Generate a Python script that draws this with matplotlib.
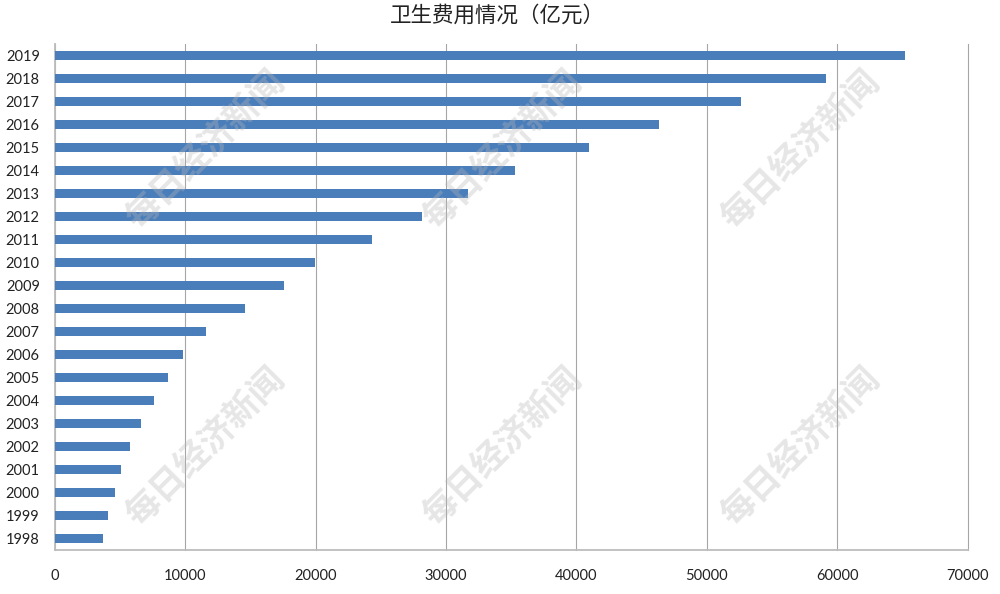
import matplotlib
matplotlib.use("Agg")
import matplotlib.pyplot as plt

years = [1998, 1999, 2000, 2001, 2002, 2003, 2004, 2005, 2006, 2007, 2008,
         2009, 2010, 2011, 2012, 2013, 2014, 2015, 2016, 2017, 2018, 2019]
spending = [3680, 4050, 4590, 5030, 5790, 6590, 7590, 8660, 9840, 11570, 14540,
            17540, 19980, 24350, 28120, 31670, 35310, 40970, 46340, 52600, 59120, 65200]
xticks = [0, 10000, 20000, 30000, 40000, 50000, 60000, 70000]
title = "卫生费用情况（亿元）"
watermark = "每日经济新闻"
mark_x = [205, 502, 800]
mark_y = [150, 447]

W, H = 1000, 594
plt.rcParams['font.family'] = ['Lato', 'DejaVu Sans']

fig = plt.figure(figsize=(W / 100, H / 100), dpi=100)
ax = fig.add_axes([55 / W, 1 - 550 / H, 912.5 / W, 506 / H])

labels = [str(y) for y in years]
ax.barh(labels, spending, height=0.43, color="#4a7ebb", zorder=3)
ax.set_xlim(0, 70000)
ax.set_ylim(-0.5, len(years) - 0.5)

ax.set_xticks(xticks)
ax.grid(axis="x", color="#a6a6a6", linewidth=0.8, zorder=1, clip_on=False)
ax.set_axisbelow(True)
for side in ["top", "right"]:
    ax.spines[side].set_visible(False)
for side in ["left", "bottom"]:
    ax.spines[side].set_color("#bdbdbd")
    ax.spines[side].set_linewidth(1.3)
ax.tick_params(axis="both", length=0, labelsize=10.5, labelcolor="#222222")
ax.tick_params(axis="x", pad=14)
ax.tick_params(axis="y", pad=11)

fig.text(497 / W, 1 - 16 / H, title, ha="center", va="center", fontsize=15.5,
         family=['Noto Sans CJK SC', 'DejaVu Sans'], color="#222222")

# watermarks sit in figure pixels, not data
for my in mark_y:
    for mx in mark_x:
        fig.text(mx / W, 1 - my / H, watermark, ha="center", va="center",
                 fontsize=25, rotation=45, rotation_mode="anchor",
                 family=['Noto Sans CJK SC', 'DejaVu Sans'], weight="bold",
                 color="#b8b8b8", alpha=0.35, zorder=5)

fig.savefig("out.png", dpi=100)
